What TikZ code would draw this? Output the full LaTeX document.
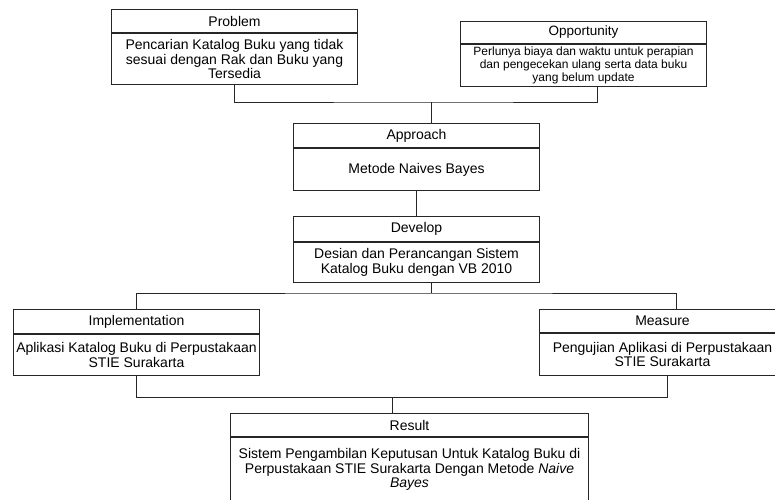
\documentclass[tikz,border=0pt]{standalone}
\usepackage{fontspec}
\setmainfont{Liberation Sans}
\usepackage{tikz}
\usetikzlibrary{positioning}

\begin{document}
\begin{tikzpicture}[x=1pt,y=-1pt,
  head/.style={draw=black!85,line width=1pt,minimum width=246pt,inner sep=0pt,anchor=north west,font=\fontsize{14}{14.5}\selectfont},
  body/.style={draw=black!85,line width=1pt,minimum width=246pt,inner sep=0pt,align=center,font=\fontsize{14}{14.5}\selectfont},
  link/.style={draw=black!85,line width=1pt}]
\useasboundingbox (0,0) rectangle (775,499);
\clip (0,0) rectangle (775,499);
% boxes
\node[head,minimum height=23pt] (prob) at (111,9) {Problem};
\node[body,minimum height=51pt,below=0pt of prob] (probtxt) {Pencarian Katalog Buku yang tidak\\ sesuai dengan Rak dan Buku yang\\ Tersedia};
\node[head,minimum height=22pt,font=\fontsize{13.5}{14}\selectfont] (opp) at (460,21) {Opportunity};
\node[body,minimum height=42pt,below=0pt of opp,font=\fontsize{12}{12.8}\selectfont] (opptxt) {Perlunya biaya dan waktu untuk perapian\\ dan pengecekan ulang serta data buku\\ yang belum update};
\node[head,minimum height=24pt] (appr) at (293,123) {Approach};
\node[body,minimum height=42pt,below=0pt of appr] (apprtxt) {Metode Naives Bayes};
\node[head,minimum height=25pt] (dev) at (293,216) {Develop};
\node[body,minimum height=40pt,below=0pt of dev] (devtxt) {Desian dan Perancangan Sistem\\ Katalog Buku dengan VB 2010};
\node[head,minimum height=24pt] (impl) at (13,309) {Implementation};
\node[body,minimum height=41pt,below=0pt of impl] (impltxt) {Aplikasi Katalog Buku di Perpustakaan\\ STIE Surakarta};
\node[head,minimum height=23pt] (meas) at (539,309) {Measure};
\node[body,minimum height=42pt,below=0pt of meas] (meastxt) {Pengujian Aplikasi di Perpustakaan\\ STIE Surakarta};
\node[head,minimum width=358pt,minimum height=23pt] (res) at (230,413) {Result};
\node[body,minimum width=358pt,minimum height=64pt,below=0pt of res] (restxt) {Sistem Pengambilan Keputusan Untuk Katalog Buku di\\ Perpustakaan STIE Surakarta Dengan Metode \textit{Naive}\\ \textit{Bayes}};
% connectors
\coordinate (j1) at (431,102);
\coordinate (j2) at (431,293);
\coordinate (j3) at (392,397);
\draw[link] (probtxt.south) |- (j1) -| ([xshift=14pt]opptxt.south);
\draw[link] (j1) -- (j1 |- appr.north);
\draw[link] (apprtxt.south) -- (dev.north);
\draw[link] (j2 |- devtxt.south) -- (j2);
\draw[link] (impl.north) |- (j2) -| ([xshift=14pt]meas.north);
\draw[link] (impltxt.south) |- (j3) -| ([xshift=5pt]meastxt.south);
\draw[link] (j3) -- (j3 |- res.north);
\end{tikzpicture}
\end{document}
